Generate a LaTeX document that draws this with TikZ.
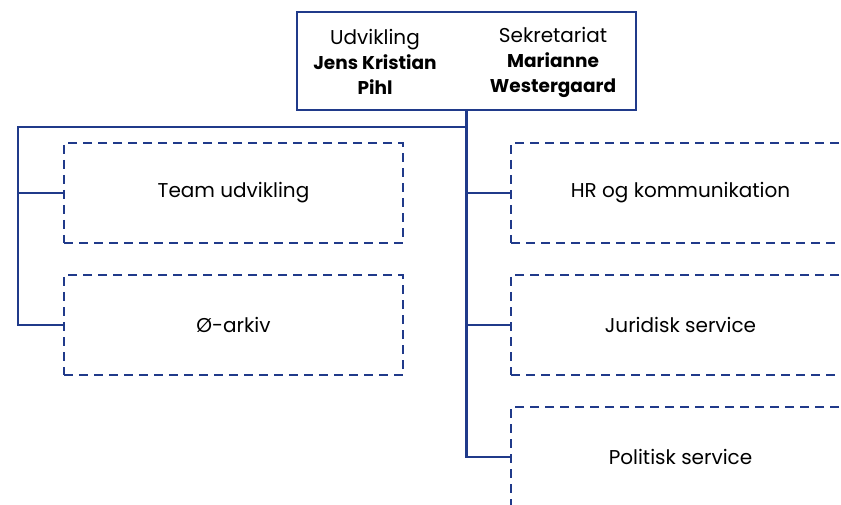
\documentclass[tikz,border=0pt]{standalone}
\usepackage{fontspec}
\setmainfont{Poppins}
\usetikzlibrary{positioning}
\definecolor{navy}{RGB}{32,58,138}
\tikzset{
  leader/.style={draw=navy, line width=2.8pt, minimum width=339pt, minimum height=98pt, inner sep=0pt},
  unit/.style={draw=navy, line width=2.8pt, dash pattern=on 9pt off 6pt, minimum width=339pt, minimum height=100pt, inner sep=0pt, font=\fontsize{20}{24}\selectfont},
  person/.style={align=center, inner sep=0pt, font=\fontsize{20}{25}\selectfont},
  link/.style={draw=navy, line width=2.8pt}
}
\begin{document}
\begin{tikzpicture}[x=1pt,y=-1pt]
  \useasboundingbox (0,0) rectangle (841,505);
  \clip (0,0) rectangle (841,505);
  \node[leader] (top) at (466.5,61) {};
  \node[person] (udv) at (375,62) {Udvikling\\{\fontsize{18.5}{25}\selectfont\textbf{Jens Kristian}}\\{\fontsize{18.5}{25}\selectfont\textbf{Pihl}}};
  \node[person] (sek) at (553,62) {Sekretariat\\{\fontsize{18.5}{25}\selectfont\textbf{Marianne}}\\{\fontsize{18.5}{25}\selectfont\textbf{Westergaard}}};
  \node[unit] (team) at (233.5,193) {Team udvikling};
  \node[unit] (arkiv) at (233.5,325) {Ø-arkiv};
  \node[unit] (hr) at (680.5,193) {HR og kommunikation};
  \node[unit] (jur) at (680.5,325) {Juridisk service};
  \node[unit] (pol) at (680.5,457) {Politisk service};
  \coordinate (split) at (top.south |- 0,127);
  \coordinate (left) at (18,127);
  \draw[link] (top.south) -- (split) -- (left) |- (arkiv.west);
  \draw[link] (left |- team.west) -- (team.west);
  \draw[link] (split) |- (pol.west);
  \draw[link] (split |- hr.west) -- (hr.west);
  \draw[link] (split |- jur.west) -- (jur.west);
\end{tikzpicture}
\end{document}
